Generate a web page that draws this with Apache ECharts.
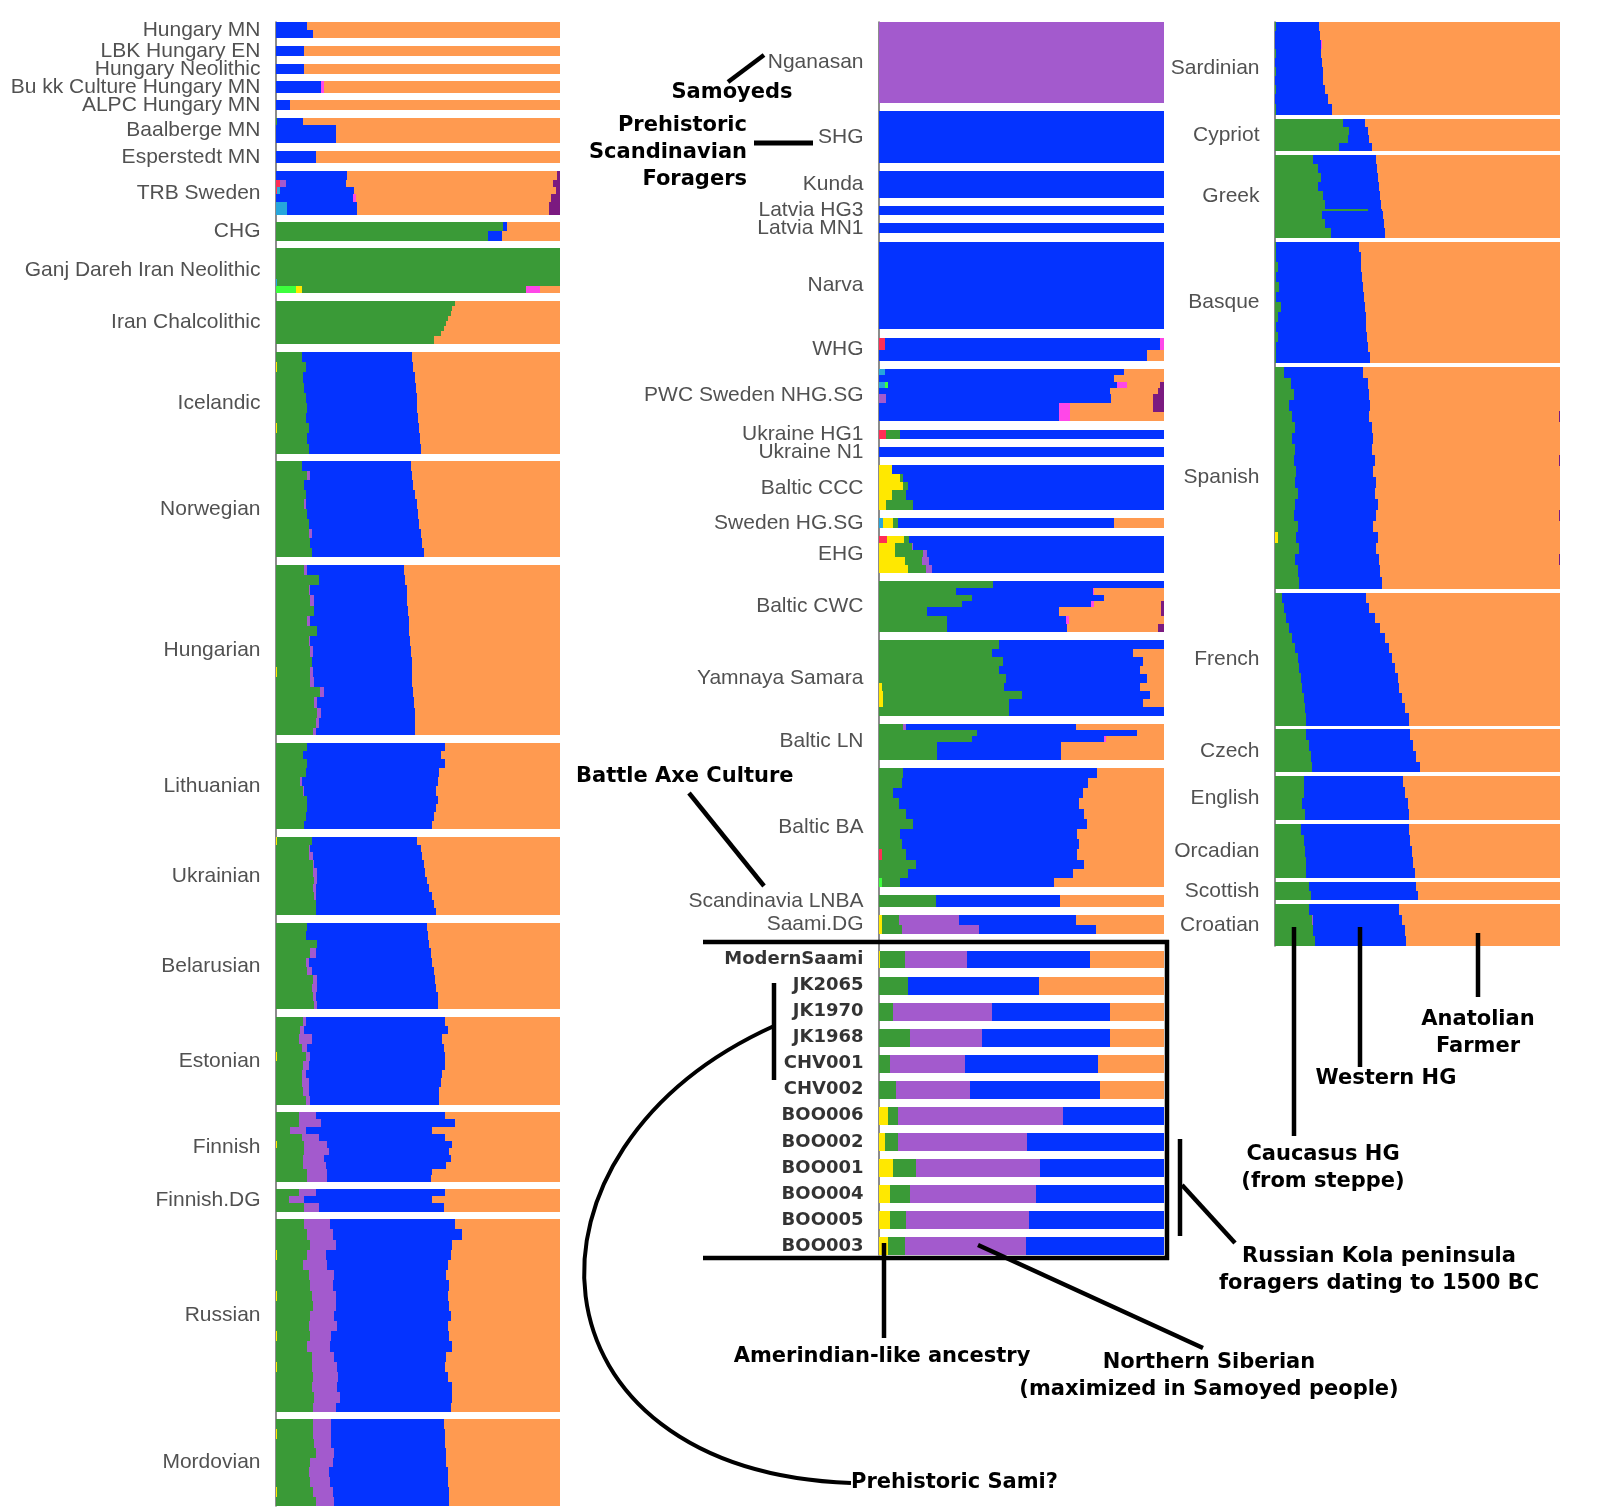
<!DOCTYPE html>
<html><head><meta charset="utf-8">
<script src="https://cdn.jsdelivr.net/npm/echarts@6/dist/echarts.min.js"></script>
<style>html,body{margin:0;padding:0;background:#fff}#c{width:1598px;height:1507px}</style>
</head><body><div id="c"></div><script>
// Component keys (left-to-right stacking order) and colours
const COMPONENT_ORDER = ['R','C','L','Y','G','P','B','M','O','D'];
const COMPONENT_COLORS = ['#ff2d55','#26a6dc','#3dff3d','#ffe800','#3a9a37','#a35acd','#0433ff','#ff47e8','#ff9a50','#7b1a80'];
// Row format: [relative height, Yellow(Amerindian), Green(Caucasus HG), Purple(N. Siberian), Blue(Western HG), Orange(Anatolian), {minor components}]

const panel1Groups = ['Hungary MN','LBK Hungary EN','Hungary Neolithic','Bu kk Culture Hungary MN','ALPC Hungary MN','Baalberge MN','Esperstedt MN','TRB Sweden','CHG','Ganj Dareh Iran Neolithic','Iran Chalcolithic','Icelandic','Norwegian','Hungarian','Lithuanian','Ukrainian','Belarusian','Estonian','Finnish','Finnish.DG','Russian','Mordovian'];
const panel1Rows = [
 [[8,0,0,0,11,89],[8,0,0,0,13,87]],
 [[10,0,0,0,10,90]],
 [[10,0,0,0,10,90]],
 [[11,0,0,0,16,83,{M:1}]],
 [[10,0,0,0,5,95]],
 [[7,0,0.5,0,9,90.5],[18,0,0,0,21,79]],
 [[12,0,0,0,14,86]],
 [[9,0,0,0,25,74,{D:1}],[7,0,0,2,21,73,{R:1.5,D:2.5}],[7,0,0,0,26,71,{R:0.5,C:1,D:1.5}],[8,0,0,0,27,69,{M:1,D:3}],[12,0,0,0,24.5,67.5,{C:4,D:4}]],
 [[9,0,80,0,1.5,18.5],[9,0,74.5,0,5,20.5]],
 [[30,0,100,0,0,0],[7,0,99.5,0,0,0,{C:0.5}],[7,2,79,0,0,7,{L:7,M:5}]],
 [[5,0,63,0,0,37],[5,0,62,0,0,38],[5,0,61.5,0,0,38.5],[5,0,60.5,0,0,39.5],[5,0,60,0,0,40],[5,0,59,0,0,41],[5,0,58,0,0,42],[8,0,55.5,0,0,44.5]],
 [[10,0,9,0,39,52],[10,0.5,10,0,37.8,51.7],[10,0,9.5,0,39.3,51.2],[10,0,10,0,39.2,50.8],[10,0,10.5,0,39,50.5],[10,0,11,0,38.8,50.2],[10,0,10.5,0,39.5,50],[10,0.5,11,0,38.9,49.6],[10,0,11,0,39.8,49.2],[10,0,11.5,0,39.7,48.8]],
 [[9,0,9,0,38.4,52.6],[9,0,11,1,36,52],[10,0,10,0,38.3,51.7],[9,0,10.5,0,38.5,51],[10,0,10,0.5,39,50.5],[9,0,11,0,39,50],[10,0,11.5,0,39,49.5],[9,0,11.5,1,38.5,49],[10,0,12,0,39.5,48.5],[9,0,12.5,0,39.5,48]],
 [[10,0,10,1,34,55],[10,0,15,0,30.5,54.5],[10,0,11.5,0.5,34,54],[10,0,12,1.5,32.5,54],[10,0,13.5,0,33,53.5],[10,0,11,1,34.8,53.2],[10,0,14.5,0,32.5,53],[10,0,11.5,0.5,35.3,52.7],[10,0,12,1,34.5,52.5],[10,0,12.5,0,35.3,52.2],[10,0.5,11.5,1,35,52],[10,0,12,1.5,34.5,52],[10,0,15.5,1.5,31.3,51.7],[10,0,13.5,1,34,51.5],[10,0,14.5,1.5,32.8,51.2],[10,0,14,1,34,51],[7,0,13,1,35,51]],
 [[8,0,11,0,48.5,40.5],[8,0,9.5,0,48.5,42],[9,0,11,0,48.5,40.5],[9,0,10.5,0,47,42.5],[9,0,8.5,0.5,48,43],[9,0,9.5,0.5,46.5,43.5],[8,0,11,0,46,43],[8,0,11,0,45.5,43.5],[9,0,10.5,0,45,44.5],[8,0,10,0,45,45]],
 [[8,0.5,12,0,37,50.5],[7,0,11.5,0.5,39,49],[8,0,11.5,1.5,38.5,48.5],[8,0,13,0.5,38.5,48],[8,0,13,1.5,38,47.5],[7,0,13.5,1,38.5,47],[8,0,13,1,40,46],[8,0,13.5,0.5,41,45],[8,0,14,0,41.5,44.5],[7,0,14,0,42.5,43.5]],
 [[8,0,11,0,42,47],[9,0,10.5,0,43,46.5],[8,0,14.5,0,39.5,46],[9,0,12,2,40.5,45.5],[9,0,10.5,1,43.5,45],[8,0,11,1.5,43,44.5],[9,0,13,1.5,41.5,44],[8,0,12.5,2,42,43.5],[9,0,13,1,43,43],[8,0,13.5,1,42.5,43]],
 [[9,0,9.5,1,49,40.5],[8,0,8.5,1.5,50.5,39.5],[9,0,8,4.5,46,41.5],[8,0,9,2,48,41],[9,0.5,10,1.5,47.5,40.5],[9,0,9.5,2,48,40.5],[8,0,9,1.5,48,41.5],[9,0,9,2.5,46.5,42],[8,0,9.5,2,46,42.5],[9,0,10.5,1.5,45.5,42.5]],
 [[7,0,8,6,45.5,40.5],[7,0,8,8,47,37],[7,0,5,5.5,44.5,45],[7,0,9,6,44.5,40.5],[7,0.5,9.5,8,44,38],[7,0,10,8.5,42.5,39],[7,0,9.5,7.5,44.5,38.5],[7,0,9.5,8,42.5,40],[6,0,11,7,37,45],[6,0,11,7,36.5,45.5]],
 [[7,0,8,6,45.5,40.5],[7,0,4.5,5.5,45,45],[8,0,10,5,44,41]],
 [[10,0,10,9,44,37],[10,0,11,9,45.5,34.5],[10,0,12,9,41,38],[10,0.5,10.5,6.5,44,38.5],[10,0,9.5,8.5,42.5,39.5],[10,0,11.5,9,39.5,40],[10,0,12,8,41,39],[10,0.5,12,8.5,39.5,39.5],[10,0,13,8,40,39],[10,0,12,8.5,41,38.5],[10,0,11.5,10,39,39.5],[10,0.5,11.5,7.5,41.5,39],[10,0,11,8,43,38],[10,0,12.5,8,39.5,40],[10,0.5,12,9,38,40.5],[10,0,13,9,38.5,39.5],[10,0,12.5,9,40.5,38],[10,0,13.5,9,39.5,38],[9,0,13,8,40.5,38.5]],
 [[9,0,13,6.5,39.5,41],[10,0.5,12.5,6.5,40,40.5],[9,0,13.5,6,40,40.5],[10,0,14,6.5,39.5,40],[9,0,12,8,40,40],[10,0,11.5,7,42,39.5],[9,0,12,7,41.5,39.5],[10,0.5,12.5,7,41,39],[9,0,14,6.5,40.5,39]]
];

const panel2Groups = ['Nganasan','SHG','Kunda','Latvia HG3','Latvia MN1','Narva','WHG','PWC Sweden NHG.SG','Ukraine HG1','Ukraine N1','Baltic CCC','Sweden HG.SG','EHG','Baltic CWC','Yamnaya Samara','Baltic LN','Baltic BA','Scandinavia LNBA','Saami.DG','ModernSaami','JK2065','JK1970','JK1968','CHV001','CHV002','BOO006','BOO002','BOO001','BOO004','BOO005','BOO003'];
const panel2BoldLabels = ['ModernSaami','JK2065','JK1970','JK1968','CHV001','CHV002','BOO006','BOO002','BOO001','BOO004','BOO005','BOO003'];
const panel2Rows = [
 [[79,0,0,100,0,0]],
 [[51,0,0,0,100,0]],
 [[26,0,0,0,100,0]],
 [[9,0,0,0,100,0]],
 [[10,0,0,0,100,0]],
 [[86,0,0,0,100,0]],
 [[12,0,0,0,96.5,0,{R:2,M:1.5}],[11,0,0,0,94,6]],
 [[6,0,0,0,84,14,{C:2}],[6,0,0,0,82.5,17.5],[6,0,0,0,80.5,11.5,{L:1,C:2,M:3.5,D:1.5}],[6,0,0,0,81,17,{D:2}],[9,0,0,2.5,79,14.5,{D:4}],[9,0,0,0,63,29,{M:4,D:4}],[9,0,0,0,63,33,{M:4}]],
 [[9,0,5,0,92.5,0,{R:2.5}]],
 [[10,0,0,0,100,0]],
 [[8,4.5,0,0,95.5,0],[8,7.5,1,0,91.5,0],[8,8.5,1.5,0,90,0],[10,4.5,5,0,90.5,0],[10,2.5,9.5,0,88,0]],
 [[9,3.5,1.5,0,76,17.5,{C:1.5}]],
 [[7,6,1.8,0,89.4,0,{R:2.8}],[7,5.5,6,0.5,88,0],[7,5.5,10,1.5,83,0],[8,9,6,2.5,82.5,0],[7,10,6.5,2,81.5,0]],
 [[7,0,40,0,60,0],[7,0,27,0,48,24.5,{M:0.5}],[6,0,32.5,0,46.5,21],[6,0,29,0,45.5,23.5,{M:1,D:1}],[8,0,17,0,46,36,{D:1}],[8,0,24,0,41.5,33.5,{M:1}],[8,0,24,0,42,32,{D:2}]],
 [[9,0,42,0,58,0],[8,0,39.5,0,49.5,11],[8,0,43.5,0,49,7.5],[8,0,42,0,49.5,8.5],[9,0,44.5,0,49.5,6],[8,1,43,0,47.5,8.5],[8,1.5,48.5,0,45,5],[8,1.5,44,0,47,7.5],[8,0,45.5,0,54.5,0]],
 [[6,0,8.5,1,59.5,31],[6,0,34.5,0,56,9.5],[6,0,32.5,0,46.5,20.5,{M:0.5}],[17,0,20.5,0,43.5,36]],
 [[10,0,8.5,0,68,23.5],[10,0,8,0,65.5,26.5],[10,0,5,0,66.5,28.5],[10,0,7,0,63,30],[10,0,9.5,0,62.5,28],[10,0,12,0,61,27],[10,0,7.5,0,62,30.5],[10,0,8,0,62,30],[10,0,8.5,0,60,30.5,{R:1}],[9,0,13,0,59,28],[9,0,10,0,58,32],[9,0,6.5,0,54,38.5,{L:1}]],
 [[11,0,20,0,43.5,36.5]],
 [[10,1,6,21,41,31],[9,1,7,27,41,24]],
 [[17.5,0.5,8.5,22,43,26]],
 [[17.5,0,10,0,46,44]],
 [[17.5,0,5,34.5,41.5,19]],
 [[17.5,0,11,25,45,19]],
 [[17.5,0,4,26,47,23]],
 [[17.5,0,6,26,45.5,22.5]],
 [[17.5,3,3.5,58,35.5,0]],
 [[17.5,2,4.5,45.5,48,0]],
 [[17.5,5,8,43.5,43.5,0]],
 [[17.5,4,7,44,45,0]],
 [[17.5,4,5.5,43,47.5,0]],
 [[17.5,3,6,42.5,48.5,0]]
];

const panel3Groups = ['Sardinian','Cypriot','Greek','Basque','Spanish','French','Czech','English','Orcadian','Scottish','Croatian'];
const panel3Rows = [
 [[9,0,0.5,0,15,84.5],[9,0,0,0,15.8,84.2],[9,0,0,0,16,83.5,{M:0.5}],[9,0,0.5,0,15.7,83.8],[9,0,0,0,16.5,83.5],[9,0,0.5,0,16.3,83.2],[9,0,0,0,17,83],[9,0,0.5,0,17,82.5],[10,0,0,0,18.5,81.5],[11,0,0.5,0,19.5,80]],
 [[8,0,24,0,7.5,68.5],[8,0,26,0,6.5,67.5],[8,0,25.5,0,7.5,67],[8,0,22.5,0,11.5,66]],
 [[9,0,13.5,0,22,64.5],[9,0,15,0,20.8,64.2],[9,0,16,0,20.2,63.8],[9,0,15,0,21.5,63.5],[9,0,17,0,20,63],[9,0,17.5,0,19.7,62.8],[2,0,32.5,0,5,62.5],[8,0,16.5,0,21.3,62.2],[9,0,17.5,0,20.7,61.8],[10,0,19.5,0,19.1,61.4]],
 [[10,0,0.5,0,29.1,70.4],[10,0,0.5,0,29.5,70],[10,0,1,0,29.3,69.7],[10,0,0.5,0,30.1,69.4],[10,0,1.5,0,29.4,69.1],[10,0,0.5,0,30.7,68.8],[10,0,2,0,29.5,68.5],[10,0,1,0,30.8,68.2],[10,0,0.5,0,31.6,67.9],[10,0,1,0,31.4,67.6],[10,0,0.5,0,32.2,67.3],[11,0,0.5,0,32.7,66.8]],
 [[11,0,3,0,28,69],[11,0,5.5,0,27,67.5],[11,0,6.5,0,26.5,67],[11,0,5,0,28.5,66.5],[11,0,6,0,27,66.5,{D:0.5}],[11,0,7,0,27,66],[11,0,6,0,28.5,65.5],[11,0,7,0,27,66],[11,0,6.5,0,28.5,64.5,{D:0.5}],[11,0,7.5,0,27,65.5],[11,0,7,0,28.5,64.5],[11,0,8,0,27,65],[11,0,7,0,29,64],[11,0,6.5,0,29,64,{D:0.5}],[11,0,8,0,26.5,65.5],[11,1,6.5,0,28.5,64],[11,0,8.5,0,27,64.5],[11,0,7,0,29.5,63,{D:0.5}],[12,0,8,0,29,63],[12,0,8.5,0,29,62.5]],
 [[10,0,2.5,0,29.5,68],[10,0,3,0,30,67],[10,0,4,0,31,65],[10,0,5,0,32,63],[10,0,6,0,32.5,61.5],[10,0,7,0,33,60],[10,0,8,0,33,59],[10,0,8.5,0,33.5,58],[10,0,9,0,34,57],[10,0,9.5,0,34,56.5],[10,0,10,0,34.5,55.5],[10,0,10.5,0,35,54.5],[13,0,11,0,36,53]],
 [[11,0,11,0,36.5,52.5],[11,0,12,0,36.5,51.5],[11,0,12.5,0,37,50.5],[10,0,13,0,38,49]],
 [[11,0,10,0,35,55],[11,0,10,0,35.5,54.5],[11,0,9.5,0,37,53.5],[11,0,10.5,0,36.5,53]],
 [[11,0,9,0,38,53],[11,0,10,0,37.5,52.5],[11,0,10.5,0,37.5,52],[11,0,11,0,37.5,51.5],[10,0,11,0,38,51]],
 [[9,0,12,0,37.5,50.5],[9,0,12.5,0,37.5,50]],
 [[11,0,12,0,31.5,56.5],[10,0,13,0.5,31,55.5],[11,0,13.5,0,32,54.5],[10,0,14,0,32,54]]
];

// ---------- build ----------
function buildPanel(groups, rows, gap, extraGapBefore) {
  let y = 0; const rects = []; const labels = [];
  groups.forEach((name, gi) => {
    if (extraGapBefore && extraGapBefore[name]) y += extraGapBefore[name];
    const y0 = y;
    rows[gi].forEach(r => {
      const ex = r[6] || {};
      const vals = {R:ex.R||0, C:ex.C||0, L:ex.L||0, Y:r[1], G:r[2], P:r[3], B:r[4], M:ex.M||0, O:r[5], D:ex.D||0};
      let x = 0;
      COMPONENT_ORDER.forEach((k, ki) => {
        const v = vals[k];
        if (v > 0) { rects.push([x, x + v, y, y + r[0], ki]); x += v; }
      });
      y += r[0];
    });
    labels.push({name: name, center: (y0 + y) / 2});
    y += gap;
  });
  return {rects, labels, total: y - gap};
}
const P1 = buildPanel(panel1Groups, panel1Rows, 7.43);
const P2 = buildPanel(panel2Groups, panel2Rows, 8, {ModernSaami: 8});
const P3 = buildPanel(panel3Groups, panel3Rows, 3.9);
const panels = [P1, P2, P3];

const grids = [
  {left: 276, width: 284, top: 22, height: 1484},
  {left: 879, width: 285, top: 22, height: 1233},
  {left: 1275, width: 285, top: 22, height: 924}
];

function renderRect(params, api) {
  const a = api.coord([api.value(0), api.value(2)]);
  const b = api.coord([api.value(1), api.value(3)]);
  const x0 = Math.round(Math.min(a[0], b[0])), x1 = Math.round(Math.max(a[0], b[0]));
  const y0 = Math.round(Math.min(a[1], b[1])), y1 = Math.round(Math.max(a[1], b[1]));
  return {type: 'rect', shape: {x: x0, y: y0, width: Math.max(x1 - x0, 1), height: y1 - y0},
          style: {fill: COMPONENT_COLORS[api.value(4)]}};
}

const labelBase = {show: true, position: 'left', distance: 15, formatter: '{b}', color: '#262626', fontSize: 21, fontFamily: 'Liberation Sans'};
const boldLabel = {color: '#000', fontSize: 18, fontWeight: 'bold', fontFamily: 'DejaVu Sans'};

const series = [];
panels.forEach((p, i) => {
  series.push({type: 'custom', xAxisIndex: i, yAxisIndex: i, renderItem: renderRect, data: p.rects,
               encode: {x: [0, 1], y: [2, 3]}, silent: true, animation: false});
  series.push({type: 'scatter', xAxisIndex: i, yAxisIndex: i, symbolSize: 1, clip: false, silent: true, animation: false,
               itemStyle: {color: 'rgba(0,0,0,0)'}, label: labelBase, z: 5,
               data: p.labels.map(l => ({value: [0, l.center], name: l.name,
                     label: panel2BoldLabels.includes(l.name) ? boldLabel : undefined}))});
});

// ---------- annotations (layout only) ----------
const AF = 'bold 21px "DejaVu Sans"';
function line(x1, y1, x2, y2, w) { return {type: 'line', z: 100, shape: {x1, y1, x2, y2}, style: {stroke: '#000', lineWidth: w || 4.5}}; }
function text(t, x, y, align) { return {type: 'text', z: 100, style: {text: t, x, y, font: AF, fill: '#000', align: align || 'center', verticalAlign: 'middle', lineHeight: 27}}; }
const graphics = [
  line(728, 82, 764, 55),
  text('Samoyeds', 732, 93),
  text('Prehistoric\nScandinavian\nForagers', 747, 153, 'right'),
  line(754, 143, 813, 143, 5),
  text('Battle Axe Culture', 576, 777, 'left'),
  line(689, 793, 764, 886),
  line(703, 942, 1169, 942), line(703, 1258, 1169, 1258), line(1167, 940, 1167, 1260),
  line(774, 983, 774, 1080),
  {type: 'bezierCurve', z: 100, shape: {x1: 774, y1: 1026, cpx1: 500, cpy1: 1150, cpx2: 520, cpy2: 1470, x2: 851, y2: 1483},
   style: {stroke: '#000', lineWidth: 4, fill: null}},
  text('Prehistoric Sami?', 851, 1483, 'left'),
  line(1180, 1139, 1180, 1236),
  line(1182, 1185, 1235, 1243),
  text('Russian Kola peninsula\nforagers dating to 1500 BC', 1379, 1270),
  line(884, 1243, 884, 1338),
  text('Amerindian-like ancestry', 882, 1357),
  line(978, 1245, 1203, 1348),
  text('Northern Siberian\n(maximized in Samoyed people)', 1209, 1376),
  line(1294, 927, 1294, 1136), line(1360, 927, 1360, 1067), line(1478, 933, 1478, 997),
  text('Anatolian\nFarmer', 1478, 1033),
  text('Western HG', 1386, 1079),
  text('Caucasus HG\n(from steppe)', 1323, 1168)
];

const chart = echarts.init(document.getElementById('c'));
chart.setOption({
  animation: false,
  backgroundColor: '#fff',
  grid: grids,
  xAxis: grids.map((g, i) => ({type: 'value', gridIndex: i, min: 0, max: 100, show: false})),
  yAxis: panels.map((p, i) => ({type: 'value', gridIndex: i, min: 0, max: p.total, inverse: true,
    axisLine: {show: true, onZero: false, lineStyle: {color: '#666', width: 1.5}},
    axisTick: {show: false}, axisLabel: {show: false}, splitLine: {show: false}})),
  series: series,
  graphic: graphics
});
</script></body></html>
